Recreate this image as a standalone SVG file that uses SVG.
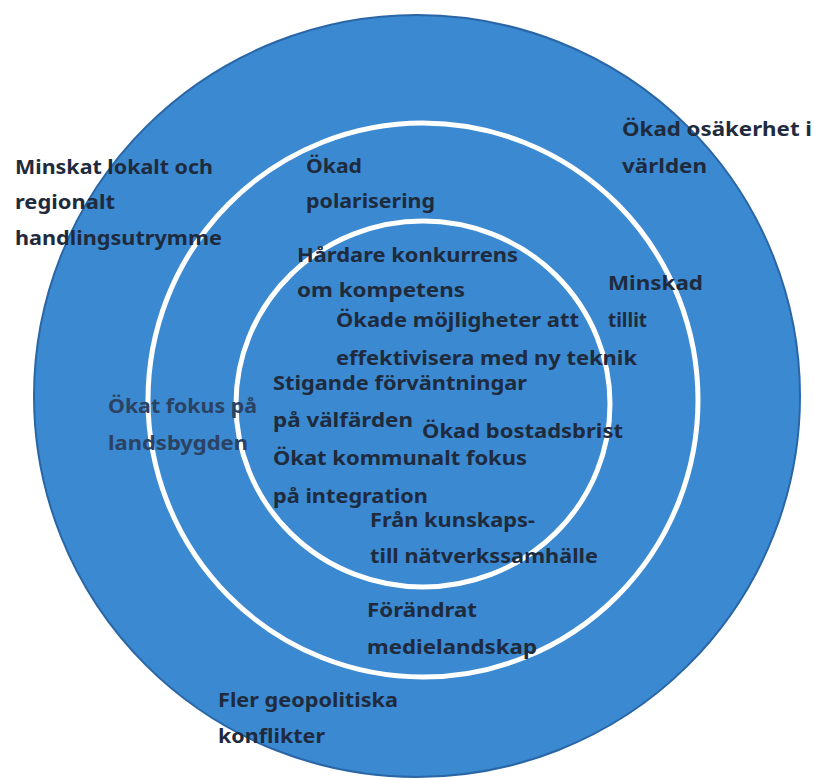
<svg xmlns="http://www.w3.org/2000/svg" width="814" height="780" viewBox="0 0 814 780">
<style>
text{font-family:"Noto Sans","Liberation Sans",sans-serif;font-weight:bold;font-size:20px;fill:#1f2b3d;lengthAdjust:spacingAndGlyphs}
.ring{fill:none;stroke:#ffffff;stroke-width:5}
.soft{fill:#2b4262}
</style>
<rect width="814" height="780" fill="#ffffff"/>
<g id="background">
<ellipse cx="417" cy="396" rx="383" ry="381" fill="#3a89d1" stroke="#2a66a6" stroke-width="2"/>
<ellipse class="ring" cx="423" cy="400" rx="275" ry="277"/>
<ellipse class="ring" cx="423" cy="404" rx="187" ry="183"/>
</g>
<g id="minskat-lokalt">
<text x="15" y="174" textLength="198" lengthAdjust="spacingAndGlyphs">Minskat lokalt och</text>
<text x="15" y="209" textLength="100" lengthAdjust="spacingAndGlyphs">regionalt</text>
<text x="15" y="245" textLength="207" lengthAdjust="spacingAndGlyphs">handlingsutrymme</text>
</g>
<g id="okad-polarisering">
<text x="306" y="173" textLength="56" lengthAdjust="spacingAndGlyphs">Ökad</text>
<text x="306" y="208" textLength="129" lengthAdjust="spacingAndGlyphs">polarisering</text>
</g>
<g id="okad-osakerhet">
<text x="622" y="136" textLength="190" lengthAdjust="spacingAndGlyphs">Ökad osäkerhet i</text>
<text x="622" y="173" textLength="85" lengthAdjust="spacingAndGlyphs">världen</text>
</g>
<g id="minskad-tillit">
<text x="608" y="290" textLength="95" lengthAdjust="spacingAndGlyphs">Minskad</text>
<text x="608" y="327" textLength="39" lengthAdjust="spacingAndGlyphs">tillit</text>
</g>
<g id="hardare-konkurrens">
<text x="297" y="262" textLength="221" lengthAdjust="spacingAndGlyphs">Hårdare konkurrens</text>
<text x="297" y="297" textLength="168" lengthAdjust="spacingAndGlyphs">om kompetens</text>
</g>
<g id="okade-mojligheter">
<text x="336" y="327" textLength="243" lengthAdjust="spacingAndGlyphs">Ökade möjligheter att</text>
<text x="336" y="365" textLength="301" lengthAdjust="spacingAndGlyphs">effektivisera med ny teknik</text>
</g>
<g id="stigande-forvantningar">
<text x="273" y="390" textLength="254" lengthAdjust="spacingAndGlyphs">Stigande förväntningar</text>
<text x="273" y="427" textLength="140" lengthAdjust="spacingAndGlyphs">på välfärden</text>
</g>
<g id="okat-fokus-landsbygden">
<text class="soft" x="108" y="413" textLength="149" lengthAdjust="spacingAndGlyphs">Ökat fokus på</text>
<text class="soft" x="108" y="450" textLength="140" lengthAdjust="spacingAndGlyphs">landsbygden</text>
</g>
<g id="okad-bostadsbrist">
<text x="422" y="438" textLength="201" lengthAdjust="spacingAndGlyphs">Ökad bostadsbrist</text>
</g>
<g id="okat-kommunalt-fokus">
<text x="273" y="465" textLength="254" lengthAdjust="spacingAndGlyphs">Ökat kommunalt fokus</text>
<text x="273" y="503" textLength="155" lengthAdjust="spacingAndGlyphs">på integration</text>
</g>
<g id="fran-kunskaps">
<text x="370" y="527" textLength="165" lengthAdjust="spacingAndGlyphs">Från kunskaps-</text>
<text x="370" y="563" textLength="228" lengthAdjust="spacingAndGlyphs">till nätverkssamhälle</text>
</g>
<g id="forandrat-medielandskap">
<text x="367" y="617" textLength="110" lengthAdjust="spacingAndGlyphs">Förändrat</text>
<text x="367" y="654" textLength="170" lengthAdjust="spacingAndGlyphs">medielandskap</text>
</g>
<g id="fler-geopolitiska">
<text x="218" y="707" textLength="180" lengthAdjust="spacingAndGlyphs">Fler geopolitiska</text>
<text x="218" y="743" textLength="107" lengthAdjust="spacingAndGlyphs">konflikter</text>
</g>
<g id="connectors"></g>
</svg>
